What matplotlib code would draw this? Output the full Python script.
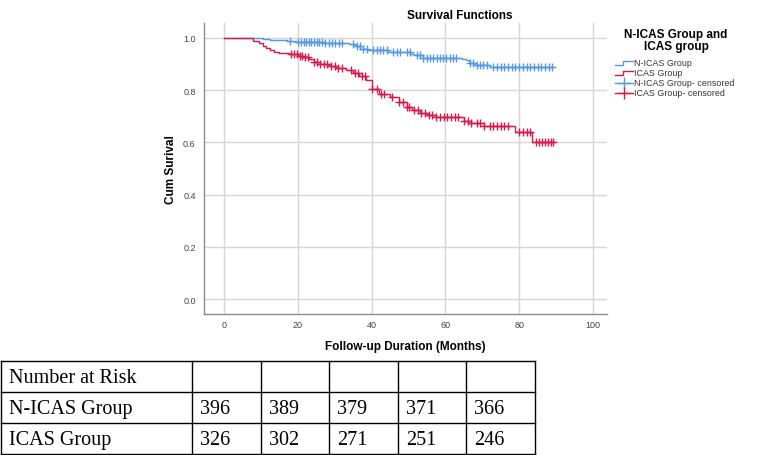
import numpy as np
import matplotlib
matplotlib.use("Agg")
import matplotlib.pyplot as plt
from matplotlib.lines import Line2D

# Kaplan-Meier step data (months, cumulative survival)
nicas_times = [0, 8.5, 10.5, 12.5, 14.5, 17.0, 19.5, 27.0, 34.0, 35.5, 37.0, 39.0,
               44.5, 50.5, 51.5, 54.0, 64.5, 65.5, 66.5, 68.0, 72.0, 89.3]
nicas_surv = [1.0, 0.998, 0.996, 0.993, 0.991, 0.988, 0.985, 0.982, 0.976, 0.968, 0.958, 0.952,
              0.946, 0.940, 0.933, 0.924, 0.921, 0.914, 0.905, 0.897, 0.888, 0.888]

icas_times = [0, 8.0, 9.5, 10.5, 11.5, 12.5, 13.5, 15.0, 17.5, 20.0, 21.5, 23.0, 24.5,
              26.0, 28.5, 30.5, 33.0, 35.0, 36.5, 38.5, 40.0, 42.0, 45.0, 47.5, 49.5,
              51.0, 53.0, 55.0, 57.5, 65.0, 67.0, 70.5, 79.0, 83.5, 89.3]
icas_surv = [1.0, 0.99, 0.98, 0.97, 0.96, 0.953, 0.946, 0.941, 0.937, 0.932, 0.925, 0.918, 0.908,
             0.900, 0.893, 0.884, 0.877, 0.867, 0.855, 0.838, 0.803, 0.786, 0.774, 0.756, 0.735,
             0.723, 0.712, 0.704, 0.696, 0.683, 0.675, 0.664, 0.641, 0.603, 0.603]

# censoring times
nicas_cens = [18.0, 20.2, 20.9, 21.6, 22.3, 23.0, 23.7, 24.4, 25.1, 25.8, 26.5, 27.5, 28.4,
              29.3, 30.2, 31.1, 32.0, 35.0, 36.0, 36.9, 37.8, 38.7, 40.5, 41.4, 42.3, 43.2,
              44.1, 45.9, 46.8, 47.7, 49.5, 50.4, 52.2, 53.1, 54.0, 54.9, 55.8, 56.7, 57.6,
              58.5, 59.4, 60.3, 61.2, 62.1, 63.0, 66.7, 67.6, 68.5, 69.4, 70.3, 71.2, 73.0,
              74.0, 75.0, 76.0, 77.0, 78.0, 79.0, 80.0, 81.0, 82.0, 83.0, 84.0, 85.0, 86.0,
              87.0, 88.0, 89.0]
icas_cens = [18.2, 19.0, 19.8, 20.5, 21.2, 22.0, 22.7, 24.5, 25.3, 26.1, 27.0, 28.0, 29.0,
             30.0, 31.0, 32.0, 34.5, 35.5, 36.4, 37.3, 38.2, 40.0, 41.5, 42.5, 43.5, 45.5,
             47.5, 48.5, 49.5, 50.2, 51.5, 52.5, 53.5, 54.5, 55.5, 56.5, 57.5, 58.5, 59.5,
             60.5, 61.5, 62.5, 63.5, 65.0, 66.0, 67.0, 68.5, 69.5, 70.5, 72.0, 73.0, 74.0,
             75.0, 76.0, 77.0, 80.0, 81.0, 82.0, 83.0, 84.5, 85.3, 86.1, 87.0, 87.8, 88.6, 89.3]

group_labels = ["N-ICAS Group", "ICAS Group"]
risk_header = "Number at Risk"
nicas_risk = [396, 389, 379, 371, 366]
icas_risk = [326, 302, 271, 251, 246]

BLUE = "#5598e4"
RED = "#d8194a"
W, H = 767, 456


def step_value(times, surv, t):
    idx = np.searchsorted(times, t, side="right") - 1
    return np.asarray(surv)[idx]


fig = plt.figure(figsize=(W / 100, H / 100), dpi=100)
plt.rcParams["font.family"] = ["Liberation Sans", "DejaVu Sans"]

ax = fig.add_axes([204 / W, 1 - 315 / H, (607 - 204) / W, (315 - 24) / H])
ax.set_xlim(-5.4, 103.8)
ax.set_ylim(-0.057, 1.057)

for times, surv, cens, col in [(nicas_times, nicas_surv, nicas_cens, BLUE),
                               (icas_times, icas_surv, icas_cens, RED)]:
    ax.step(times, surv, where="post", color=col, lw=1.0, zorder=3)
    ax.plot(cens, step_value(times, surv, cens), ls="none", marker="+",
            ms=6, mew=1.0, color=col, zorder=4)

ax.set_xticks([0, 20, 40, 60, 80, 100])
ax.set_yticks([0.0, 0.2, 0.4, 0.6, 0.8, 1.0])
ax.set_yticklabels(["0.0", "0.2", "0.4", "0.6", "0.8", "1.0"])
ax.tick_params(length=0, labelsize=6.5, labelcolor="#444444")
ax.tick_params(axis="x", pad=4)
ax.tick_params(axis="y", pad=6)
ax.grid(True, color="#d6d6d6", lw=1.0)
ax.set_axisbelow(True)
for s in ["top", "right"]:
    ax.spines[s].set_visible(False)
for s in ["left", "bottom"]:
    ax.spines[s].set_color("#8c8c8c")
    ax.spines[s].set_linewidth(1.0)

ax.set_xlabel("Follow-up Duration (Months)", fontsize=8.5, fontweight="bold", labelpad=8)
ax.set_ylabel("Cum Surival", fontsize=8.5, fontweight="bold", labelpad=4)

# overlay in pixel coordinates for title, legend and table
ov = fig.add_axes([0, 0, 1, 1])
ov.set_xlim(0, W)
ov.set_ylim(H, 0)
ov.axis("off")
ov.patch.set_alpha(0)

ov.text(460, 16, "Survival Functions", ha="center", va="center",
        fontsize=8.5, fontweight="bold")
ov.text(676, 41, "N-ICAS Group and\nICAS group", ha="center", va="center",
        fontsize=8.5, fontweight="bold", linespacing=1.1)

leg_y = [64, 74, 84, 94]
leg_text = [group_labels[0], group_labels[1],
            group_labels[0] + "- censored", group_labels[1] + "- censored"]
leg_col = [BLUE, RED, BLUE, RED]
for i, (y, txt, col) in enumerate(zip(leg_y, leg_text, leg_col)):
    if i < 2:
        ov.add_line(Line2D([615, 623, 623, 633], [y + 2, y + 2, y - 2, y - 2],
                           color=col, lw=1.0))
    else:
        ov.add_line(Line2D([615, 633], [y, y], color=col, lw=1.0))
        ov.plot([624], [y], marker="+", ms=8, mew=1.0, color=col)
    ov.text(634, y, txt, ha="left", va="center", fontsize=6.4, color="#333333")

# number at risk table
col_edges = [0.8, 192, 261, 329, 398, 466, 535]
row_edges = [362, 393, 424, 455]
for x in col_edges:
    ov.add_line(Line2D([x, x], [row_edges[0], row_edges[-1]], color="black", lw=1.0))
for y in row_edges:
    ov.add_line(Line2D([col_edges[0], col_edges[-1]], [y, y], color="black", lw=1.0))

rows = [[risk_header] + [""] * 5,
        [group_labels[0]] + [str(v) for v in nicas_risk],
        [group_labels[1]] + [str(v) for v in icas_risk]]
for r, row in enumerate(rows):
    yc = (row_edges[r] + row_edges[r + 1]) / 2 + 1
    for c, txt in enumerate(row):
        ov.text(col_edges[c] + 8, yc, txt, ha="left", va="center",
                fontsize=14.5, family="Liberation Serif")

fig.savefig("out.png", dpi=100)
